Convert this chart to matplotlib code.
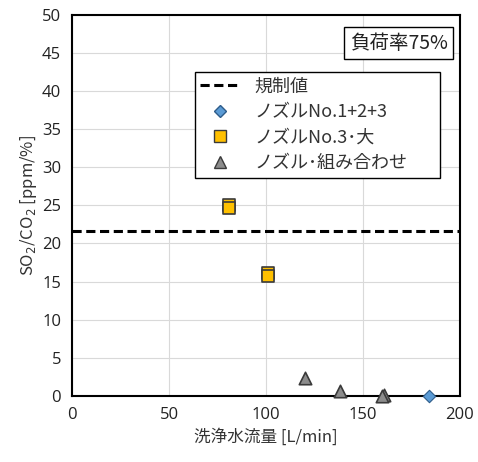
import numpy as np
import matplotlib.pyplot as plt
from matplotlib.lines import Line2D

plt.rcParams['font.family'] = ['Noto Sans CJK JP', 'DejaVu Sans']

# data
limit_value = 21.7

flow_123 = [184]
ratio_123 = [0.0]

flow_no3 = [81, 81, 101, 101]
ratio_no3 = [25.0, 24.6, 16.1, 15.7]

flow_comb = [120, 138, 161, 160]
ratio_comb = [2.3, 0.6, 0.15, 0.05]

xticks = [0, 50, 100, 150, 200]
yticks = [0, 5, 10, 15, 20, 25, 30, 35, 40, 45, 50]

fig = plt.figure(figsize=(4.78, 4.62), dpi=100)
ax = fig.add_axes([0.151, 0.143, 0.811, 0.825])

ax.axhline(limit_value, color='black', linestyle=(0, (3, 1.5)), linewidth=2.2, zorder=2)
ax.scatter(flow_no3, ratio_no3, marker='s', s=70, color='#FFC000', edgecolor='#3a3a3a',
           linewidth=1.2, zorder=3, clip_on=False)
ax.scatter(flow_comb, ratio_comb, marker='^', s=80, color='#8c8c8c', edgecolor='#3a3a3a',
           linewidth=1.2, zorder=3, clip_on=False)
ax.scatter(flow_123, ratio_123, marker='D', s=40, color='#5B9BD5', edgecolor='#2e5c8a',
           linewidth=0.8, zorder=4, clip_on=False)

ax.set_xlim(0, 200)
ax.set_ylim(0, 50)
ax.set_xticks(xticks)
ax.set_yticks(yticks)
ax.tick_params(length=0, labelsize=12, pad=8)
for lab in ax.get_xticklabels() + ax.get_yticklabels():
    lab.set_family(['Open Sans', 'DejaVu Sans'])
    lab.set_color('#222222')
ax.grid(True, color='#d9d9d9', linewidth=0.8)
ax.set_axisbelow(True)
for s in ax.spines.values():
    s.set_linewidth(1.5)
    s.set_color('black')

ax.set_xlabel('洗浄水流量 [L/min]', fontsize=12, color='#333333', labelpad=4)
ax.set_ylabel('SO$_2$/CO$_2$ [ppm/%]', fontsize=12, color='#333333', labelpad=2)

handles = [
    Line2D([], [], color='black', linestyle=(0, (3, 1.5)), linewidth=2.2),
    Line2D([], [], marker='D', linestyle='none', markersize=6, markerfacecolor='#5B9BD5',
           markeredgecolor='#2e5c8a'),
    Line2D([], [], marker='s', linestyle='none', markersize=8, markerfacecolor='#FFC000',
           markeredgecolor='#3a3a3a'),
    Line2D([], [], marker='^', linestyle='none', markersize=8, markerfacecolor='#8c8c8c',
           markeredgecolor='#3a3a3a'),
]
labels = ['規制値', 'ノズルNo.1+2+3', 'ノズルNo.3･大', 'ノズル･組み合わせ']
leg = ax.legend(handles, labels, loc='upper left', bbox_to_anchor=(0.317, 0.58, 0.631, 0.27),
                mode='expand', fontsize=13, frameon=True, fancybox=False, edgecolor='black',
                framealpha=1, borderpad=0.3, labelspacing=0.42, handlelength=2.2,
                borderaxespad=0)
leg.get_frame().set_linewidth(1.0)
for t in leg.get_texts():
    t.set_color('#333333')

ax.text(0.968, 0.898, '負荷率75%', transform=ax.transAxes, ha='right', va='bottom',
        fontsize=14, color='#222222',
        bbox=dict(boxstyle='square,pad=0.3', facecolor='white', edgecolor='black', linewidth=1.0))

fig.savefig('out.png', dpi=100)
